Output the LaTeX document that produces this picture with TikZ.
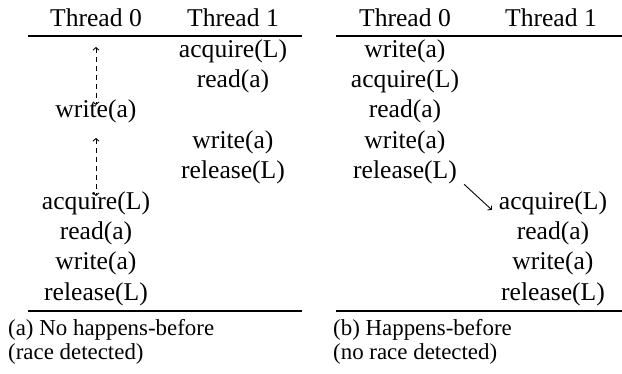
\documentclass[tikz,border=0pt]{standalone}
\usepackage{fontspec}
\setmainfont{Liberation Serif}
\usetikzlibrary{arrows.meta}
\tikzset{
  cell/.style={anchor=base, inner sep=0pt, font=\fontsize{25.6}{30.5}\selectfont},
  capline/.style={anchor=base west, inner sep=0pt, font=\fontsize{22.9}{25.4}\selectfont},
  tablerule/.style={line width=1.3pt},
  order/.style={line width=0.9pt, dash pattern=on 5pt off 4pt,
    {Straight Barb[length=2.5pt,width=6pt]}-{Straight Barb[length=2.5pt,width=6pt]}},
  sync/.style={line width=0.9pt, -{Straight Barb[length=2.5pt,width=6pt]}}
}
\begin{document}
\begin{tikzpicture}[x=1pt,y=-1pt]
\useasboundingbox (0,0) rectangle (622,373);

% ---- (a) no happens-before ----
\node[cell] (ah0) at (96,26) {Thread 0};
\node[cell] (ah1) at (233,26) {Thread 1};
\draw[tablerule] (28,36) -- (302,36);
\node[cell] (a1r1) at (233,57) {acquire(L)};
\node[cell] (a1r2) at (233,87.4) {read(a)};
\node[cell] (a0r3) at (96,117.8) {write(a)};
\node[cell] (a1r4) at (233,148.2) {write(a)};
\node[cell] (a1r5) at (233,178.6) {release(L)};
\node[cell] (a0r6) at (96,209) {acquire(L)};
\node[cell] (a0r7) at (96,239.4) {read(a)};
\node[cell] (a0r8) at (96,269.8) {write(a)};
\node[cell] (a0r9) at (96,300.2) {release(L)};
\draw[tablerule] (28,311) -- (302,311);

\coordinate (up1) at (96,47);
\coordinate (dn1) at (96,105);
\coordinate (up2) at (96,138);
\coordinate (dn2) at (96,196);
\draw[order] (up1) -- (dn1);
\draw[order] (up2) -- (dn2);

\node[capline] (capa1) at (8,335.5) {(a) No happens-before};
\node[capline] (capa2) at (8,359) {(race detected)};

% ---- (b) happens-before ----
\node[cell] (bh0) at (405,26) {Thread 0};
\node[cell] (bh1) at (551,26) {Thread 1};
\draw[tablerule] (336,36) -- (622,36);
\node[cell] (b0r1) at (405,57) {write(a)};
\node[cell] (b0r2) at (405,87.4) {acquire(L)};
\node[cell] (b0r3) at (405,117.8) {read(a)};
\node[cell] (b0r4) at (405,148.2) {write(a)};
\node[cell] (b0r5) at (405,178.6) {release(L)};
\node[cell] (b1r6) at (553,209) {acquire(L)};
\node[cell] (b1r7) at (553,239.4) {read(a)};
\node[cell] (b1r8) at (553,269.8) {write(a)};
\node[cell] (b1r9) at (553,300.2) {release(L)};
\draw[tablerule] (336,311) -- (622,311);

\draw[sync] ([xshift=7pt,yshift=0pt]b0r5.south east) -- ([xshift=-7pt,yshift=-7pt]b1r6.west);

\node[capline] (capb1) at (333,335.5) {(b) Happens-before};
\node[capline] (capb2) at (333,359) {(no race detected)};
\end{tikzpicture}
\end{document}
